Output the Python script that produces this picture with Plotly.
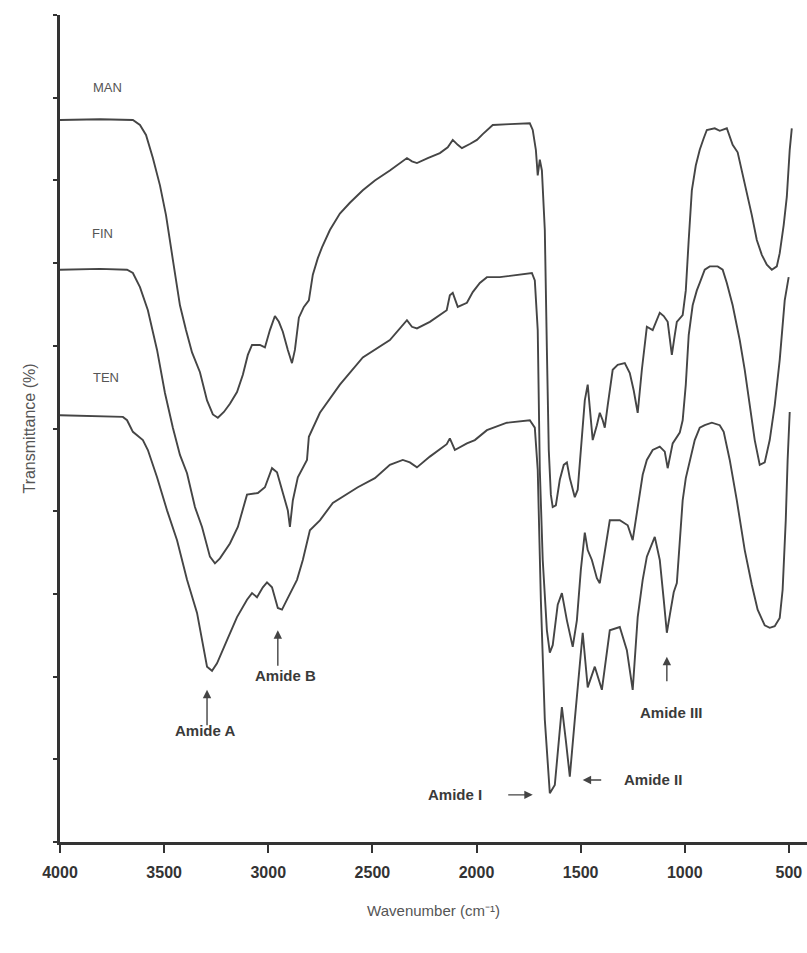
import plotly.graph_objects as go

# ---------------- data ----------------
man_wn = [4000, 3808, 3650, 3616, 3587, 3554, 3520, 3491, 3458, 3424, 3395, 3366, 3328, 3294, 3266, 3242,
          3213, 3184, 3150, 3122, 3098, 3078, 3040, 3016, 2992, 2968, 2949, 2930, 2906, 2886, 2872, 2853,
          2829, 2805, 2786, 2762, 2742, 2704, 2656, 2608, 2546, 2488, 2416, 2368, 2334, 2310, 2286, 2234,
          2176, 2138, 2114, 2090, 2070, 2032, 1998, 1970, 1950, 1922, 1840, 1744, 1730, 1715, 1706, 1696,
          1686, 1672, 1662, 1653, 1643, 1634, 1619, 1600, 1581, 1566, 1552, 1528, 1514, 1494, 1480, 1466,
          1456, 1442, 1422, 1408, 1394, 1384, 1370, 1346, 1322, 1288, 1264, 1245, 1226, 1206, 1182, 1154,
          1120, 1101, 1082, 1062, 1048, 1038, 1010, 995, 981, 966, 947, 928, 909, 894, 856, 832, 798, 770,
          746, 726, 702, 678, 654, 630, 606, 582, 558, 544, 525, 510, 496, 486]
man_t = [87.3, 87.4, 87.3, 86.7, 85.5, 82.7, 79.4, 75.8, 70.4, 64.9, 61.9, 59.2, 56.8, 53.4, 51.7, 51.3,
         52.0, 53.0, 54.4, 56.5, 58.9, 60.1, 60.1, 59.8, 61.9, 63.6, 62.9, 61.7, 59.5, 57.9, 59.5, 63.4,
         64.7, 65.5, 68.6, 70.6, 71.9, 74.0, 76.0, 77.3, 78.8, 80.0, 81.2, 82.1, 82.7, 82.3, 82.1, 82.7,
         83.3, 84.0, 84.9, 84.3, 83.9, 84.4, 84.9, 85.6, 86.1, 86.7, 86.8, 86.9, 86.1, 83.7, 80.6, 82.5,
         81.2, 74.0, 59.5, 47.4, 42.0, 40.5, 40.7, 43.8, 45.6, 45.9, 44.0, 41.7, 42.6, 48.6, 53.4, 55.3,
         52.2, 48.6, 50.4, 51.9, 51.0, 50.1, 52.8, 57.1, 57.7, 57.9, 56.7, 54.6, 51.9, 57.1, 62.3, 61.9,
         64.0, 63.6, 62.9, 58.9, 61.3, 62.9, 63.7, 66.7, 72.8, 78.8, 81.8, 83.7, 85.1, 86.1, 86.3, 86.0, 86.3, 84.3,
         83.4, 81.2, 78.8, 75.8, 72.8, 71.0, 69.8, 69.2, 69.6, 71.2, 74.6, 78.0, 83.7, 86.3]

fin_wn = [4000, 3808, 3678, 3650, 3616, 3578, 3534, 3496, 3458, 3424, 3390, 3352, 3318, 3280, 3256, 3232,
          3184, 3146, 3102, 3050, 3016, 2982, 2958, 2930, 2906, 2896, 2882, 2858, 2834, 2814, 2805, 2752,
          2656, 2546, 2416, 2334, 2310, 2286, 2224, 2143, 2128, 2114, 2090, 2046, 2018, 1984, 1950, 1888,
          1734, 1720, 1706, 1696, 1682, 1662, 1648, 1634, 1610, 1590, 1566, 1538, 1518, 1499, 1480, 1466,
          1446, 1422, 1408, 1384, 1360, 1312, 1274, 1250, 1226, 1202, 1182, 1154, 1120, 1096, 1082, 1058,
          1024, 1010, 995, 981, 962, 942, 928, 904, 880, 842, 818, 798, 770, 736, 712, 688, 664, 640, 616,
          592, 568, 544, 520, 501]
fin_t = [69.2, 69.3, 69.2, 68.8, 67.1, 64.3, 59.5, 54.3, 50.1, 46.8, 44.6, 40.5, 38.1, 34.5, 33.7, 34.3,
         36.1, 38.1, 42.0, 42.2, 42.9, 45.2, 44.7, 42.2, 40.1, 38.1, 41.3, 44.1, 45.3, 46.2, 49.0, 51.9,
         55.3, 58.6, 60.7, 63.1, 62.3, 62.1, 62.9, 64.3, 66.1, 66.4, 64.7, 65.2, 66.5, 67.6, 68.3, 68.3,
         68.8, 67.9, 61.9, 45.0, 34.1, 25.6, 22.9, 23.8, 28.7, 30.1, 26.8, 23.6, 26.8, 32.9, 37.4, 35.3,
         34.1, 31.9, 31.3, 35.3, 38.9, 38.9, 38.3, 36.5, 40.7, 44.4, 46.2, 47.4, 47.8, 47.2, 45.2, 48.2,
         49.5, 51.0, 55.3, 61.3, 64.9, 66.7, 67.6, 69.2, 69.6, 69.6, 69.2, 67.6, 64.9, 60.7, 57.1, 52.8, 48.6, 45.6, 45.9,
         48.6, 52.8, 58.3, 65.5, 68.3]

ten_wn = [4000, 3808, 3698, 3678, 3650, 3602, 3578, 3534, 3486, 3438, 3390, 3342, 3318, 3294, 3270, 3246,
          3198, 3150, 3102, 3078, 3054, 3026, 3006, 2982, 2954, 2934, 2910, 2862, 2834, 2800, 2752, 2690,
          2570, 2488, 2416, 2354, 2320, 2286, 2224, 2143, 2128, 2104, 2046, 2008, 1950, 1854, 1744, 1720,
          1706, 1691, 1672, 1648, 1624, 1605, 1590, 1571, 1552, 1528, 1504, 1490, 1466, 1432, 1398, 1379,
          1360, 1312, 1278, 1250, 1226, 1202, 1182, 1144, 1120, 1101, 1086, 1072, 1053, 1038, 1024, 1010,
          995, 976, 952, 928, 904, 870, 832, 813, 784, 750, 712, 678, 650, 616, 592, 568, 544, 530, 515,
          506, 496]
ten_t = [51.6, 51.5, 51.4, 51.0, 49.6, 48.6, 47.4, 44.1, 40.1, 36.5, 31.7, 27.7, 24.4, 21.2, 20.7, 21.6,
         24.4, 27.2, 29.3, 30.1, 29.6, 30.8, 31.4, 30.8, 28.3, 28.1, 29.3, 31.7, 34.1, 37.7, 38.9, 41.0,
         42.9, 44.0, 45.6, 46.2, 45.9, 45.3, 46.6, 48.1, 48.8, 47.4, 48.2, 48.6, 49.8, 50.7, 51.0, 50.1,
         45.0, 29.3, 14.8, 5.9, 6.9, 12.3, 16.3, 12.3, 7.9, 14.8, 22.0, 25.3, 18.7, 21.2, 18.4, 22.0,
         25.6, 26.0, 23.2, 18.4, 27.2, 31.7, 34.5, 36.9, 34.1, 29.3, 25.3, 27.4, 30.2, 31.3, 35.9, 41.3,
         44.0, 46.2, 48.6, 50.1, 50.4, 50.7, 50.4, 49.6, 46.2, 41.3, 35.3, 31.1, 28.1, 26.2, 25.9, 26.1, 27.1, 30.5, 38.9,
         46.2, 52.0]

x_ticks = [4000, 3500, 3000, 2500, 2000, 1500, 1000, 500]
y_ticks = [0, 10, 20, 30, 40, 50, 60, 70, 80, 90, 100]

series_labels = ["MAN", "FIN", "TEN"]
series_label_wn = [3770, 3798, 3779]
series_label_t = [91.2, 73.6, 56.2]

# band annotations: text, text position, arrow tip, arrow tail offset (px)
band_text = ["Amide A", "Amide B", "Amide I", "Amide II", "Amide III"]
band_text_wn = [3304, 2915, 2104, 1154, 1062]
band_text_t = [13.5, 20.1, 5.7, 7.5, 15.6]
band_tip_wn = [3294, 2954, 1730, 1490, 1086]
band_tip_t = [18.4, 25.6, 5.7, 7.5, 22.4]
band_tail_dx = [0, 0, -26, 20, 0]
band_tail_dy = [37, 37, 0, 0, 26]

# ---------------- figure ----------------
line_color = "#454545"
font_family = "Liberation Sans, Arial"
fig = go.Figure()
for name, wn, t in [("MAN", man_wn, man_t), ("FIN", fin_wn, fin_t), ("TEN", ten_wn, ten_t)]:
    fig.add_trace(go.Scatter(x=wn, y=t, mode="lines", name=name, showlegend=False,
                             line=dict(color=line_color, width=1.9)))

annotations = []
for s, xw, yt in zip(series_labels, series_label_wn, series_label_t):
    annotations.append(dict(x=xw, y=yt, text=s, showarrow=False,
                            font=dict(family=font_family, size=13, color="#555555")))
for s, xw, yt in zip(band_text, band_text_wn, band_text_t):
    annotations.append(dict(x=xw, y=yt, text=s, showarrow=False,
                            font=dict(family=font_family, size=15, color="#3a3a3a", weight="bold")))
for xw, yt, dx, dy in zip(band_tip_wn, band_tip_t, band_tail_dx, band_tail_dy):
    annotations.append(dict(x=xw, y=yt, text="", showarrow=True, ax=dx, ay=dy,
                            arrowhead=2, arrowsize=1.2, arrowwidth=1.4, arrowcolor="#444444"))

fig.update_layout(
    width=807, height=953,
    margin=dict(l=60, r=0, t=15, b=111),
    paper_bgcolor="white", plot_bgcolor="white",
    annotations=annotations,
    xaxis=dict(range=[4000, 413], tickvals=x_ticks, ticktext=[str(v) for v in x_ticks],
               showline=True, linecolor="#333333", linewidth=2.5, ticks="outside", ticklen=8,
               tickwidth=1.5, tickcolor="#333333", showgrid=False, zeroline=False,
               ticklabelstandoff=6,
               tickfont=dict(family=font_family, size=16, color="#333333", weight="bold"),
               title=dict(text="Wavenumber (cm⁻¹)", standoff=26,
                          font=dict(family=font_family, size=15, color="#555555"))),
    yaxis=dict(range=[0, 100], tickvals=y_ticks, showticklabels=False,
               showline=True, linecolor="#333333", linewidth=2.5, ticks="outside", ticklen=4,
               tickwidth=2, tickcolor="#333333", showgrid=False, zeroline=False,
               title=dict(text="Transmittance (%)", standoff=14,
                          font=dict(family=font_family, size=16, color="#555555"))),
)

fig.write_html("out.html")
